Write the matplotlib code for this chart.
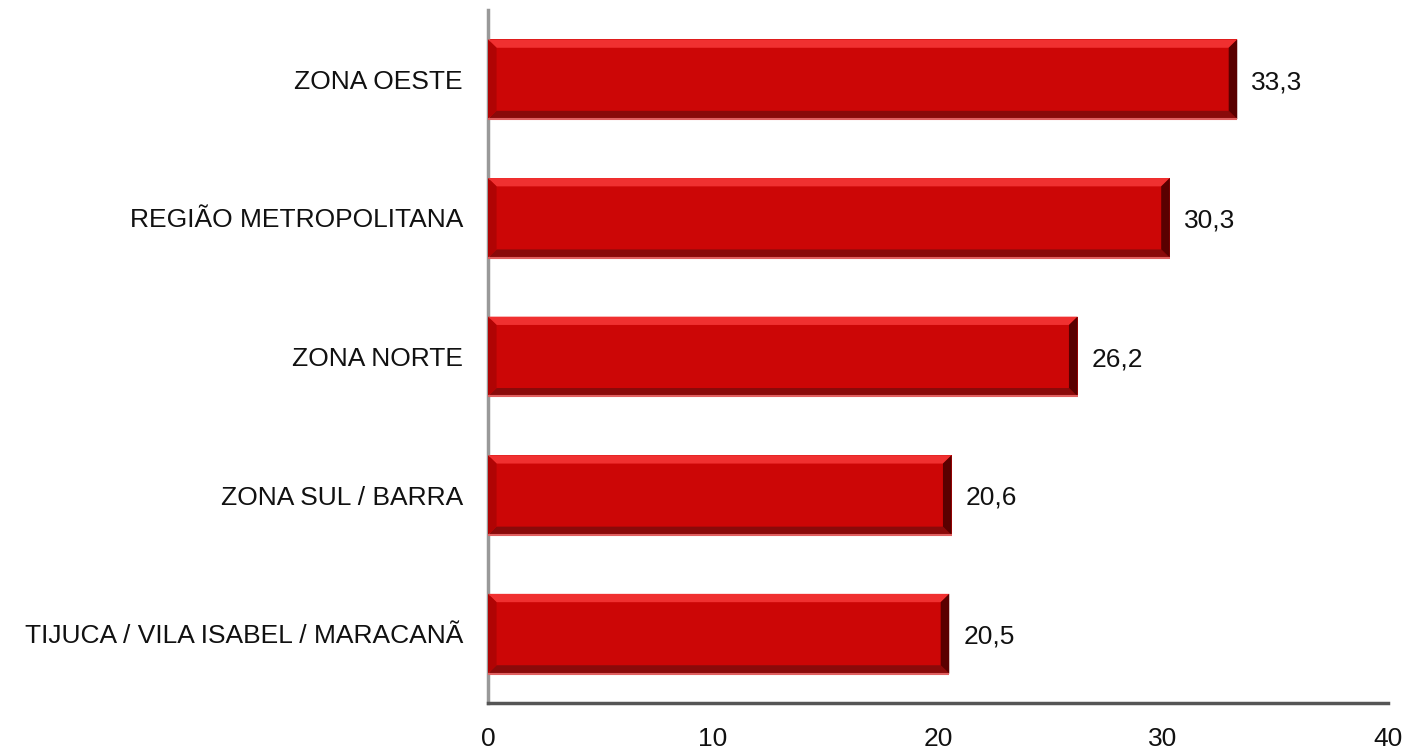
import matplotlib

matplotlib.use("Agg")
import matplotlib.pyplot as plt
from matplotlib.patches import Polygon

plt.rcParams["font.family"] = ["Liberation Sans", "DejaVu Sans"]

# ---------------------------------------------------------------------------
# Data
# ---------------------------------------------------------------------------
categories = [
    "ZONA OESTE",
    "REGIÃO METROPOLITANA",
    "ZONA NORTE",
    "ZONA SUL / BARRA",
    "TIJUCA / VILA ISABEL / MARACANÃ",
]
values = [33.3, 30.3, 26.2, 20.6, 20.5]
value_labels = ["33,3", "30,3", "26,2", "20,6", "20,5"]
x_ticks = [0, 10, 20, 30, 40]

# ---------------------------------------------------------------------------
# Figure
# ---------------------------------------------------------------------------
fig = plt.figure(figsize=(14.08, 7.5), dpi=100)
ax = fig.add_axes([488 / 1408, 47 / 750, 900 / 1408, 693 / 750])

ypos = list(range(len(categories)))
bar_h = 0.575
bars = ax.barh(ypos, values, height=bar_h, color="#CC0606", edgecolor="none", zorder=2)

# bevel effect: light top, dark bottom, dark right edge, light left edge
bx = 0.38   # bevel depth in x (data units)
by = 0.06   # bevel depth in y (data units)
for rect in bars:
    x0, y0 = rect.get_x(), rect.get_y()
    x1, y1 = x0 + rect.get_width(), y0 + rect.get_height()
    # y axis is inverted below, so y0 is visually the top edge
    top = Polygon([(x0, y0), (x1, y0), (x1 - bx, y0 + by), (x0 + bx, y0 + by)],
                  closed=True, color="#F03030", lw=0, zorder=3)
    bottom = Polygon([(x0, y1), (x1, y1), (x1 - bx, y1 - by), (x0 + bx, y1 - by)],
                     closed=True, color="#8A0A0A", lw=0, zorder=3)
    right = Polygon([(x1, y0), (x1, y1), (x1 - bx, y1 - by), (x1 - bx, y0 + by)],
                    closed=True, color="#5A0000", lw=0, zorder=3)
    left = Polygon([(x0, y0), (x0, y1), (x0 + bx, y1 - by), (x0 + bx, y0 + by)],
                   closed=True, color="#B00404", lw=0, zorder=3)
    for p in (top, bottom, right, left):
        ax.add_patch(p)
    # thin light rim at bottom edge
    ax.plot([x0, x1], [y1, y1], color="#E06060", lw=1.5, zorder=4, solid_capstyle="butt")

for y, v, lab in zip(ypos, values, value_labels):
    ax.text(v + 0.62, y + 0.02, lab, va="center", ha="left", fontsize=19, color="#111111")

ax.set_xlim(0, 40)
ax.set_ylim(len(categories) - 0.5, -0.5)
ax.set_xticks(x_ticks)
ax.set_xticklabels([str(t) for t in x_ticks], fontsize=19)
ax.set_yticks(ypos)
ax.set_yticklabels(categories, fontsize=19)
ax.tick_params(axis="both", length=0, colors="#111111")
ax.tick_params(axis="x", pad=17)
ax.tick_params(axis="y", pad=18)

for side in ("top", "right"):
    ax.spines[side].set_visible(False)
ax.spines["left"].set_color("#999999")
ax.spines["left"].set_linewidth(2.5)
ax.spines["bottom"].set_color("#555555")
ax.spines["bottom"].set_linewidth(2.5)

fig.savefig("out.png", dpi=100)
